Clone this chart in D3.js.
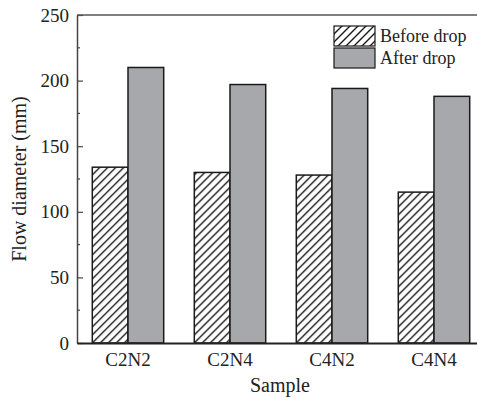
<!DOCTYPE html>
<html>
<head>
<meta charset="utf-8">
<script src="https://cdn.jsdelivr.net/npm/d3@7"></script>
<style>
    body { margin: 0; background: #fff; }
    svg { display: block; }
    text { font-family: "Liberation Serif", "Times New Roman", serif; fill: #222; }
</style>
</head>
<body>
<div id="chart"></div>
<script>
// data
const samples = ['C2N2', 'C2N4', 'C4N2', 'C4N4'];
const seriesNames = ['Before drop', 'After drop'];
const beforeDrop = [134, 130, 128, 115];
const afterDrop = [210, 197, 194, 188];
const yTicks = [0, 50, 100, 150, 200, 250];

const width = 477, height = 400;
const margin = {top: 15, right: -8, bottom: 57, left: 77};
const plotW = width - margin.left - margin.right;
const plotH = height - margin.top - margin.bottom;

const svg = d3.select('#chart')
    .append('svg')
    .attr('width', width)
    .attr('height', height);

// hatch for "before"
svg.append('defs')
    .append('pattern')
    .attr('id', 'hatch')
    .attr('patternUnits', 'userSpaceOnUse')
    .attr('width', 8)
    .attr('height', 8)
    .append('path')
    .attr('d', 'M0,8 L8,0 M-2,2 L2,-2 M6,10 L10,6')
    .attr('stroke', '#1a1a1a')
    .attr('stroke-width', 1.4);

const g = svg.append('g')
    .attr('transform', `translate(${margin.left},${margin.top})`);

const x0 = d3.scaleBand()
    .domain(samples)
    .range([0, plotW])
    .paddingInner(0.3)
    .paddingOuter(0.15);

const x1 = d3.scaleBand()
    .domain(seriesNames)
    .range([0, x0.bandwidth()]);

const y = d3.scaleLinear()
    .domain([0, 250])
    .range([plotH, 0]);

const fills = ['url(#hatch)', '#a7a8ac'];

const rows = samples.map((s, i) => ({
    sample: s,
    values: [beforeDrop[i], afterDrop[i]]
}));

// bars
const groups = g.selectAll('.group')
    .data(rows)
    .enter()
    .append('g')
    .attr('class', 'group')
    .attr('transform', d => `translate(${x0(d.sample)},0)`);

groups.selectAll('rect')
    .data(d => d.values.map((v, j) => ({name: seriesNames[j], value: v, j: j})))
    .enter()
    .append('rect')
    .attr('x', d => x1(d.name))
    .attr('y', d => y(d.value))
    .attr('width', x1.bandwidth())
    .attr('height', d => plotH - y(d.value))
    .attr('fill', d => fills[d.j])
    .attr('stroke', '#1a1a1a')
    .attr('stroke-width', 1.5);

// y axis, ticks pointing inward
const yAxis = d3.axisLeft(y)
    .tickValues(yTicks)
    .tickSizeInner(-6)
    .tickSizeOuter(0)
    .tickPadding(8);

const yG = g.append('g').call(yAxis);
yG.select('.domain').attr('stroke', '#444').attr('stroke-width', 1.5);
yG.selectAll('.tick line').attr('stroke', '#444').attr('stroke-width', 1.2);
yG.selectAll('.tick text')
    .attr('font-size', 19)
    .attr('font-family', '"Liberation Serif", serif')
    .attr('fill', '#333');

// minor ticks
g.selectAll('.minor')
    .data(d3.range(25, 250, 50))
    .enter()
    .append('line')
    .attr('class', 'minor')
    .attr('x1', 0)
    .attr('x2', 3)
    .attr('y1', d => y(d))
    .attr('y2', d => y(d))
    .attr('stroke', '#444')
    .attr('stroke-width', 1.2);

// x axis
const xAxis = d3.axisBottom(x0)
    .tickSize(0)
    .tickPadding(10);

const xG = g.append('g')
    .attr('transform', `translate(0,${plotH})`)
    .call(xAxis);
xG.select('.domain').attr('stroke', '#222').attr('stroke-width', 2.2);
xG.selectAll('.tick text')
    .attr('font-size', 19)
    .attr('font-family', '"Liberation Serif", serif')
    .attr('fill', '#333');

// top frame line
g.append('line')
    .attr('x1', 0)
    .attr('x2', plotW)
    .attr('y1', 0)
    .attr('y2', 0)
    .attr('stroke', '#555')
    .attr('stroke-width', 1.5);

// axis titles
svg.append('text')
    .attr('x', margin.left + 203)
    .attr('y', 392)
    .attr('text-anchor', 'middle')
    .attr('font-size', 20)
    .attr('fill', '#333')
    .text('Sample');

svg.append('text')
    .attr('transform', 'translate(26,179) rotate(-90)')
    .attr('text-anchor', 'middle')
    .attr('font-size', 20)
    .attr('fill', '#333')
    .text('Flow diameter (mm)');

// legend
const legend = svg.append('g')
    .attr('transform', 'translate(334,26)');

const items = legend.selectAll('.item')
    .data(seriesNames)
    .enter()
    .append('g')
    .attr('class', 'item')
    .attr('transform', (d, i) => `translate(0,${i * 22})`);

items.append('rect')
    .attr('width', 41)
    .attr('height', 20)
    .attr('fill', (d, i) => fills[i])
    .attr('stroke', '#1a1a1a')
    .attr('stroke-width', 1.2);

items.append('text')
    .attr('x', 46)
    .attr('y', 16)
    .attr('font-size', 18)
    .attr('fill', '#333')
    .text(d => d);
</script>
</body>
</html>
